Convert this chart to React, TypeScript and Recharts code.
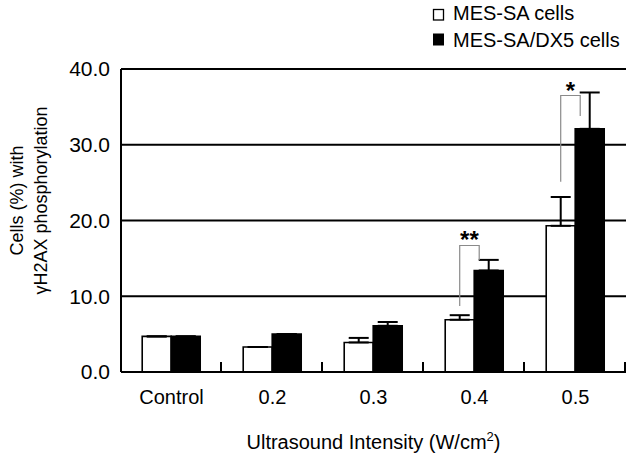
import React from 'react';
import { BarChart, Bar, XAxis, YAxis, CartesianGrid, ErrorBar, LabelList } from 'recharts';

const categories = ['Control', '0.2', '0.3', '0.4', '0.5'];
const mesSa = [4.7, 3.3, 3.9, 6.9, 19.3];
const mesSaErr = [0, 0, 0.6, 0.6, 3.8];
const dx5 = [4.7, 5.0, 6.1, 13.4, 32.1];
const dx5Err = [0, 0, 0.5, 1.4, 4.8];
const sigLabels = ['', '', '', '**', '*'];
const sigTop = [0, 0, 0, 16.7, 36.5];
const sigLeftEnd = [0, 0, 0, 8.7, 25.1];
const sigRightEnd = [0, 0, 0, 14.8, 33.8];
const yTicks = [0, 10, 20, 30, 40];
const seriesNames = ['MES-SA cells', 'MES-SA/DX5 cells'];

const FONT = '"Liberation Sans", Arial, Helvetica, sans-serif';
const TICK_MARGIN = 18;

const data = categories.map((c, i) => ({
  name: c,
  mesSa: mesSa[i],
  mesSaErr: [0, mesSaErr[i]],
  dx5: dx5[i],
  dx5Err: [0, dx5Err[i]],
}));

const XTick = (props: any) => {
  const { x, y, payload, width, visibleTicksCount } = props;
  let off = payload && typeof payload.offset === 'number' && payload.offset > 0 ? payload.offset : 0;
  if (!off && width && visibleTicksCount) off = width / visibleTicksCount / 2;
  const axisY = y - TICK_MARGIN;
  return (
    <g>
      <text x={x} y={y} dy="0.71em" textAnchor="middle" fontSize={20} fill="#000" fontFamily={FONT}>
        {payload.value}
      </text>
      <line x1={x + off - 1} x2={x + off - 1} y1={axisY} y2={axisY - 10} stroke="#000" strokeWidth={2} />
    </g>
  );
};

const SigLabel = (props: any) => {
  const { x, y, width, height, index, value } = props;
  const lab = sigLabels[index];
  if (!lab || !value) return null;
  const base = y + height;
  const k = height / value;
  const lx = x - width / 2;
  const rx = x + 5;
  const yt = base - sigTop[index] * k;
  const yl = base - sigLeftEnd[index] * k;
  const yr = base - sigRightEnd[index] * k;
  return (
    <g>
      <polyline
        points={`${lx},${yl} ${lx},${yt} ${rx},${yt} ${rx},${yr}`}
        fill="none"
        stroke="#8a8a8a"
        strokeWidth={1.2}
      />
      <text
        x={(lx + rx) / 2}
        y={yt + 3}
        textAnchor="middle"
        fontSize={24}
        fontWeight="bold"
        fill="#000"
        fontFamily={FONT}
      >
        {lab}
      </text>
    </g>
  );
};

const YTitle = (props: any) => {
  const vb = props.viewBox || { x: 0, y: 69, width: 121, height: 303 };
  const cy = vb.y + vb.height / 2 - 20;
  return (
    <g fontFamily={FONT} fontSize={18} fill="#000">
      <text x={17} y={cy} transform={`rotate(-90, 17, ${cy})`} textAnchor="middle" dominantBaseline="central">
        Cells (%) with
      </text>
      <text x={41} y={cy} transform={`rotate(-90, 41, ${cy})`} textAnchor="middle" dominantBaseline="central">
        γH2AX phosphorylation
      </text>
    </g>
  );
};

const XTitle = (props: any) => {
  const vb = props.viewBox || { x: 121, y: 372, width: 505, height: 88 };
  const cx = vb.x + vb.width / 2;
  return (
    <text x={cx} y={vb.y + 77} textAnchor="middle" fontSize={20} fill="#000" fontFamily={FONT}>
      Ultrasound Intensity (W/cm
      <tspan fontSize={13} dy={-8}>2</tspan>
      <tspan dy={8}>)</tspan>
    </text>
  );
};

export default function App() {
  return (
    <div style={{ position: 'absolute', left: 0, top: 0, width: 633, height: 460, background: '#fff' }}>
      <BarChart
        width={633}
        height={460}
        data={data}
        margin={{ top: 69, right: 7, left: 0, bottom: 0 }}
        barCategoryGap="21%"
        barGap={0}
      >
        <CartesianGrid vertical={false} stroke="#000" strokeWidth={2} />
        <XAxis
          dataKey="name"
          height={88}
          tickLine={false}
          tickSize={0}
          tickMargin={TICK_MARGIN}
          axisLine={{ stroke: '#000', strokeWidth: 2 }}
          tick={<XTick />}
          interval={0}
          label={{ content: (p: any) => <XTitle {...p} /> }}
        />
        <YAxis
          width={121}
          domain={[0, 40]}
          ticks={yTicks}
          tickFormatter={(v: number) => v.toFixed(1)}
          tickLine={false}
          tickSize={0}
          tickMargin={11}
          axisLine={{ stroke: '#000', strokeWidth: 2 }}
          tick={{ fontSize: 21, fill: '#000', fontFamily: FONT }}
          label={{ content: (p: any) => <YTitle {...p} /> }}
        />
        <Bar dataKey="mesSa" fill="#fff" stroke="#000" strokeWidth={1.6} isAnimationActive={false}>
          <ErrorBar dataKey="mesSaErr" width={10} stroke="#000" strokeWidth={2} direction="y" />
        </Bar>
        <Bar dataKey="dx5" fill="#000" stroke="#000" strokeWidth={1.6} isAnimationActive={false}>
          <ErrorBar dataKey="dx5Err" width={10} stroke="#000" strokeWidth={2} direction="y" />
          <LabelList dataKey="dx5" content={(p: any) => <SigLabel {...p} />} />
        </Bar>
      </BarChart>
      <svg
        width={633}
        height={60}
        style={{ position: 'absolute', left: 0, top: 0, pointerEvents: 'none' }}
        fontFamily={FONT}
      >
        <rect x={433.5} y={9.5} width={10} height={10.5} fill="#fff" stroke="#000" strokeWidth={1.3} />
        <text x={453} y={20} fontSize={20} fill="#000">{seriesNames[0]}</text>
        <rect x={433} y={33.5} width={11} height={12} fill="#000" />
        <text x={453} y={46.5} fontSize={20} fill="#000">{seriesNames[1]}</text>
      </svg>
    </div>
  );
}
